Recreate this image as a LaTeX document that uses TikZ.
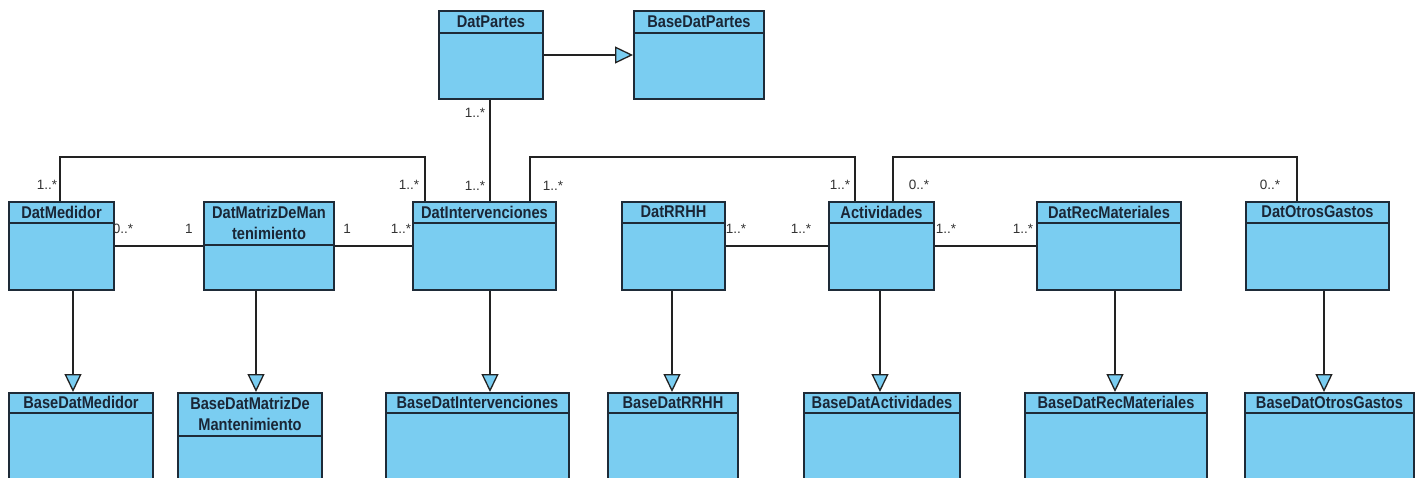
\documentclass[tikz,border=0pt]{standalone}
\usepackage{fontspec}
\setmainfont{Liberation Sans}
\newfontfamily\titlefont[FakeStretch=0.86]{Liberation Sans}
\usetikzlibrary{arrows.meta}

\definecolor{boxblue}{HTML}{7ACDF1}
\definecolor{edgecol}{HTML}{1E2B38}
\definecolor{titlecol}{HTML}{1A2636}
\definecolor{linecol}{HTML}{222222}
\definecolor{multcol}{HTML}{333333}

\tikzset{
  umlbox/.style={draw=edgecol, fill=boxblue, line width=2pt, rectangle,
    anchor=north west, inner sep=0pt},
  headline/.style={draw=edgecol, line width=1.8pt},
  classtitle/.style={font=\titlefont\bfseries\fontsize{17}{21}\selectfont,
    text=titlecol, align=center, inner sep=0pt},
  assoc/.style={draw=linecol, line width=1.6pt},
  generalize/.style={draw=linecol, line width=1.6pt,
    -{Triangle[length=18pt, width=17pt, fill=boxblue, line width=1.3pt]}},
  mult/.style={font=\fontsize{13.5}{14}\selectfont, text=multcol, inner sep=0pt},
}

% name, left x, top y, width, height, header height, title
\newcommand{\umlclass}[7]{%
  \node[umlbox, minimum width=#4pt, minimum height=#5pt] (#1) at (#2,#3) {};
  \draw[headline] ([yshift=-#6pt]#1.north west) -- ([yshift=-#6pt]#1.north east);
  \node[classtitle] (#1-title) at ([yshift=-0.5*#6pt]#1.north) {#7};
}

\begin{document}
\begin{tikzpicture}[x=1pt, y=-1pt]
\useasboundingbox (0,0) rectangle (1423,478);
\clip (0,0) rectangle (1423,478);
\fill[white] (0,0) rectangle (1423,478);

% top row
\umlclass{partes}{438}{10}{104}{88}{23}{DatPartes}
\umlclass{basepartes}{633}{10}{130}{88}{23}{BaseDatPartes}

% middle row
\umlclass{medidor}{8}{201}{105}{88}{22}{DatMedidor}
\umlclass{matriz}{203}{201}{130}{88}{44}{DatMatrizDeMan\\tenimiento}
\umlclass{interv}{412}{201}{143}{88}{22}{DatIntervenciones}
\umlclass{rrhh}{621}{201}{103}{88}{22}{DatRRHH}
\umlclass{activ}{828}{201}{105}{88}{22}{Actividades}
\umlclass{recmat}{1036}{201}{144}{88}{22}{DatRecMateriales}
\umlclass{otros}{1245}{201}{143}{88}{22}{DatOtrosGastos}

% bottom row
\umlclass{basemed}{8}{392}{144}{110}{21}{BaseDatMedidor}
\umlclass{basematriz}{177}{392}{144}{110}{44}{BaseDatMatrizDe\\Mantenimiento}
\umlclass{baseinterv}{385}{392}{183}{110}{21}{BaseDatIntervenciones}
\umlclass{baserrhh}{607}{392}{130}{110}{21}{BaseDatRRHH}
\umlclass{baseactiv}{803}{392}{156}{110}{21}{BaseDatActividades}
\umlclass{baserecmat}{1024}{392}{182}{110}{21}{BaseDatRecMateriales}
\umlclass{baseotros}{1244}{392}{169}{110}{21}{BaseDatOtrosGastos}

% connector bend points
\coordinate (pi) at (490,0);
\coordinate (ia1) at (530,157);
\coordinate (ia2) at (855,157);
\coordinate (mi1) at (60,157);
\coordinate (mi2) at (425,157);
\coordinate (ao1) at (893,157);
\coordinate (ao2) at (1297,157);

% generalization columns
\coordinate (gm) at (73,0);
\coordinate (gx) at (256,0);
\coordinate (gi) at (490,0);
\coordinate (gr) at (672,0);
\coordinate (ga) at (880,0);
\coordinate (gc) at (1115,0);
\coordinate (go) at (1324,0);

% associations
\draw[assoc] (partes.south -| pi) -- (interv.north -| pi);
\draw[assoc] (interv.north -| ia1) -- (ia1) -- (ia2) -- (activ.north -| ia2);
\draw[assoc] (medidor.north -| mi1) -- (mi1) -- (mi2) -- (interv.north -| mi2);
\draw[assoc] (activ.north -| ao1) -- (ao1) -- (ao2) -- (otros.north -| ao2);
\draw[assoc] (medidor.east) -- (matriz.west);
\draw[assoc] (matriz.east) -- (interv.west);
\draw[assoc] (rrhh.east) -- (activ.west);
\draw[assoc] (activ.east) -- (recmat.west);

% generalizations
\draw[generalize] (partes.east) -- (basepartes.west);
\draw[generalize] (medidor.south -| gm) -- (basemed.north -| gm);
\draw[generalize] (matriz.south -| gx) -- (basematriz.north -| gx);
\draw[generalize] (interv.south -| gi) -- (baseinterv.north -| gi);
\draw[generalize] (rrhh.south -| gr) -- (baserrhh.north -| gr);
\draw[generalize] (activ.south -| ga) -- (baseactiv.north -| ga);
\draw[generalize] (recmat.south -| gc) -- (baserecmat.north -| gc);
\draw[generalize] (otros.south -| go) -- (baseotros.north -| go);

% multiplicities
\node[mult] (m1) at (475,113) {1..*};
\node[mult] (m2) at (475,186) {1..*};
\node[mult] (m3) at (553,186) {1..*};
\node[mult] (m4) at (47,185) {1..*};
\node[mult] (m5) at (409,185) {1..*};
\node[mult] (m6) at (123,229) {0..*};
\node[mult] (m7) at (189,229) {1};
\node[mult] (m8) at (347,229) {1};
\node[mult] (m9) at (401,229) {1..*};
\node[mult] (m10) at (736,229) {1..*};
\node[mult] (m11) at (801,229) {1..*};
\node[mult] (m12) at (840,185) {1..*};
\node[mult] (m13) at (919,185) {0..*};
\node[mult] (m14) at (946,229) {1..*};
\node[mult] (m15) at (1023,229) {1..*};
\node[mult] (m16) at (1270,185) {0..*};
\end{tikzpicture}
\end{document}
